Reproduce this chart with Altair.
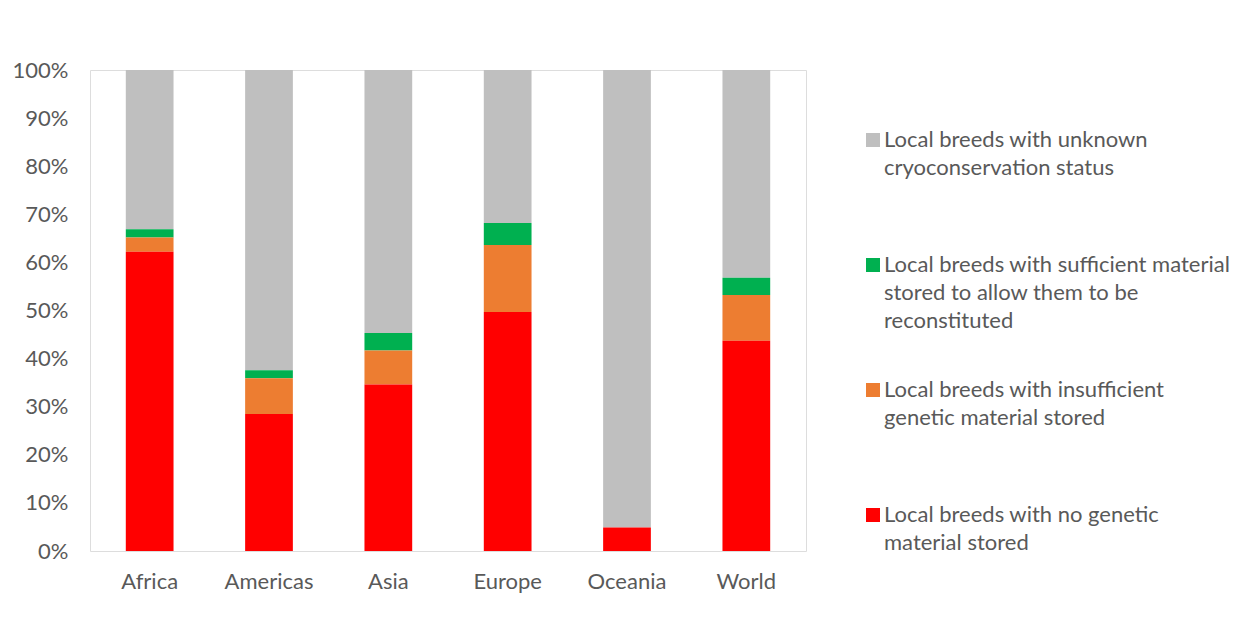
import altair as alt
import pandas as pd

regions = ["Africa", "Americas", "Asia", "Europe", "Oceania", "World"]
series = [
    "Local breeds with unknown\ncryoconservation status",
    "Local breeds with sufficient material\nstored to allow them to be\nreconstituted",
    "Local breeds with insufficient\ngenetic material stored",
    "Local breeds with no genetic\nmaterial stored",
]
colors = ["#BFBFBF", "#00B050", "#ED7D31", "#FF0000"]
# stacking rank: 0 = bottom
stack_rank = [3, 2, 1, 0]

unknown = [33.1, 62.4, 54.7, 31.8, 95.1, 43.2]
sufficient = [1.7, 1.7, 3.6, 4.6, 0.0, 3.6]
insufficient = [3.0, 7.4, 7.1, 13.9, 0.0, 9.5]
none_stored = [62.2, 28.5, 34.6, 49.7, 4.9, 43.7]

values = [unknown, sufficient, insufficient, none_stored]
rows = []
for s, rank, vals in zip(series, stack_rank, values):
    for r, v in zip(regions, vals):
        rows.append({"region": r, "series": s, "rank": rank, "value": v / 100.0})
df = pd.DataFrame(rows)

font = "Lato"
fs = 22
chart = (
    alt.Chart(df)
    .mark_bar()
    .encode(
        x=alt.X(
            "region:N",
            sort=regions,
            title=None,
            scale=alt.Scale(paddingInner=0.6, paddingOuter=0.3),
            axis=alt.Axis(
                labelAngle=0, labelFontSize=fs, labelColor="#595959", labelFont=font,
                domain=False, ticks=False, labelPadding=20,
            ),
        ),
        y=alt.Y(
            "value:Q",
            stack="zero",
            title=None,
            scale=alt.Scale(domain=[0, 1], nice=False),
            axis=alt.Axis(
                values=[i / 10 for i in range(11)], format=".0%", grid=False,
                domain=False, ticks=False, labelFontSize=fs, labelColor="#595959",
                labelFont=font, labelPadding=22,
            ),
        ),
        color=alt.Color(
            "series:N",
            scale=alt.Scale(domain=series, range=colors),
            legend=alt.Legend(
                title=None, orient="none", legendX=772, legendY=59,
                symbolType="square", symbolSize=196, symbolStrokeWidth=0,
                labelFontSize=fs, labelColor="#595959", labelFont=font,
                labelLimit=500, labelOffset=0, labelBaseline="middle",
                labelExpr="split(datum.label, '\\n')",
                gridAlign="all", rowPadding=47, padding=0,
            ),
        ),
        order=alt.Order("rank:Q", sort="ascending"),
    )
    .properties(
        width=716, height=481,
        padding={"left": 82, "top": 62, "right": 434, "bottom": 68},
        autosize="none",
    )
    .configure_view(stroke="#D9D9D9", strokeWidth=1.5)
    .configure(lineBreak="\n", style={"guide-label": {"lineHeight": 28}})
)

chart.save("out.html", embed_options={"renderer": "svg", "actions": False})
